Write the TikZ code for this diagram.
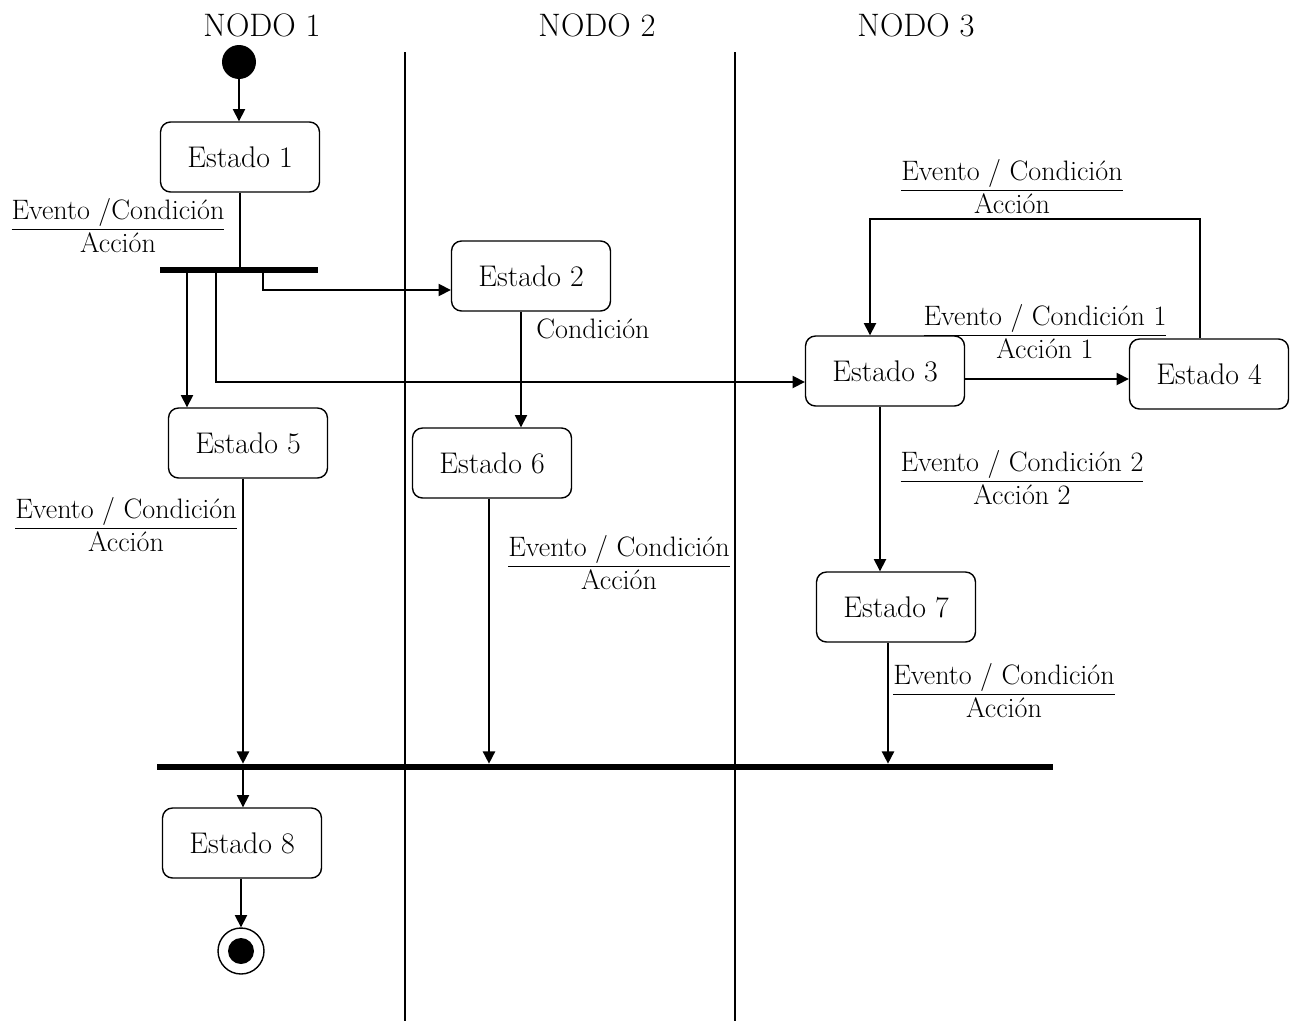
\documentclass[tikz,border=0pt]{standalone}
\usepackage{tikz}
\usetikzlibrary{arrows.meta,positioning}
\tikzset{
  estado/.style={rectangle, draw, line width=0.8pt, rounded corners=0.2cm,
                 minimum width=3.18cm, minimum height=1.4cm, font=\textogrande},
  etiqueta/.style={align=center, font=\texto, inner sep=1pt},
  carrilnombre/.style={font=\textonodo, inner sep=1pt},
  barra/.style={rectangle, fill=black, inner sep=0pt, minimum height=3.4pt},
  inicio/.style={circle, fill=black, inner sep=0pt, minimum size=0.68cm},
  fin/.style={circle, draw, line width=0.8pt, inner sep=0pt, minimum size=0.92cm},
  flecha/.style={-{Triangle[length=7pt,width=7pt]}, line width=0.9pt},
  linea/.style={line width=0.9pt},
  carril/.style={line width=0.9pt},
}
\newcommand{\texto}{\fontsize{16}{18.7}\selectfont}
\newcommand{\textogrande}{\fontsize{17}{20}\selectfont}
\newcommand{\textonodo}{\fontsize{18.5}{22}\selectfont}

\begin{document}
\begin{tikzpicture}[x=0.02cm, y=-0.02cm]
  \useasboundingbox (0,0) rectangle (1294,1021);
  % carriles
  \node[carrilnombre] (nodo1) at (262,25) {NODO 1};
  \node[carrilnombre] (nodo2) at (597,25) {NODO 2};
  \node[carrilnombre] (nodo3) at (916,25) {NODO 3};
  \draw[carril] (405,52) -- (405,1021);
  \draw[carril] (735,52) -- (735,1021);
  % estados
  \node[inicio] (ini) at (239,62) {};
  \node[estado] (e1) at (240,157) {Estado 1};
  \node[barra, minimum width=3.16cm] (fork) at (239,270) {};
  \node[estado] (e2) at (531,276) {Estado 2};
  \node[estado] (e3) at (885,371) {Estado 3};
  \node[estado] (e4) at (1209,374) {Estado 4};
  \node[estado] (e5) at (248,443) {Estado 5};
  \node[estado] (e6) at (492,463) {Estado 6};
  \node[estado] (e7) at (896,607) {Estado 7};
  \node[barra, minimum width=17.92cm] (join) at (605,767) {};
  \node[estado] (e8) at (242,843) {Estado 8};
  \node[fin] (fin) at (241,951) {};
  \fill (fin) circle (0.26cm);
  \coordinate (lazo) at (1035,219);
  % etiquetas
  \node[etiqueta] (l1) at (118,226) {\underline{Evento /Condición}\\Acción};
  \node[etiqueta] (l2) at (593,329) {Condición};
  \node[etiqueta] (l43) at (1012,187) {\underline{Evento / Condición}\\Acción};
  \node[etiqueta] (l34) at (1045,332) {\underline{Evento / Condición 1}\\Acción 1};
  \node[etiqueta] (l37) at (1022,478) {\underline{Evento / Condición 2}\\Acción 2};
  \node[etiqueta] (l5) at (126,525) {\underline{Evento / Condición}\\Acción};
  \node[etiqueta] (l6) at (619,563) {\underline{Evento / Condición}\\Acción};
  \node[etiqueta] (l7) at (1004,691) {\underline{Evento / Condición}\\Acción};
  % transiciones
  \draw[flecha] (ini) -- (e1.north -| ini);
  \draw[linea] (e1.south) -- (e1.south |- fork.center);
  \draw[flecha] (fork -| 263,0) |- (e2.west |- 0,290);
  \draw[flecha] (fork -| 187,0) -- (e5.north -| 187,0);
  \draw[flecha] (fork -| 216,0) |- (e3.west |- 0,382);
  \draw[flecha] (e2.south -| 521,0) -- (e6.north -| 521,0);
  \draw[flecha] (e3.east |- 0,379) -- (e4.west |- 0,379);
  \draw[flecha] (e4.north -| 1200,0) |- (lazo) -| (e3.north -| 870,0);
  \draw[flecha] (e3.south -| 880,0) -- (e7.north -| 880,0);
  \draw[flecha] (e5.south -| 243,0) -- (join.north -| 243,0);
  \draw[flecha] (e6.south -| 489,0) -- (join.north -| 489,0);
  \draw[flecha] (e7.south -| 888,0) -- (join.north -| 888,0);
  \draw[flecha] (join.south -| 243,0) -- (e8.north -| 243,0);
  \draw[flecha] (e8.south -| fin) -- (fin.north);
\end{tikzpicture}
\end{document}
